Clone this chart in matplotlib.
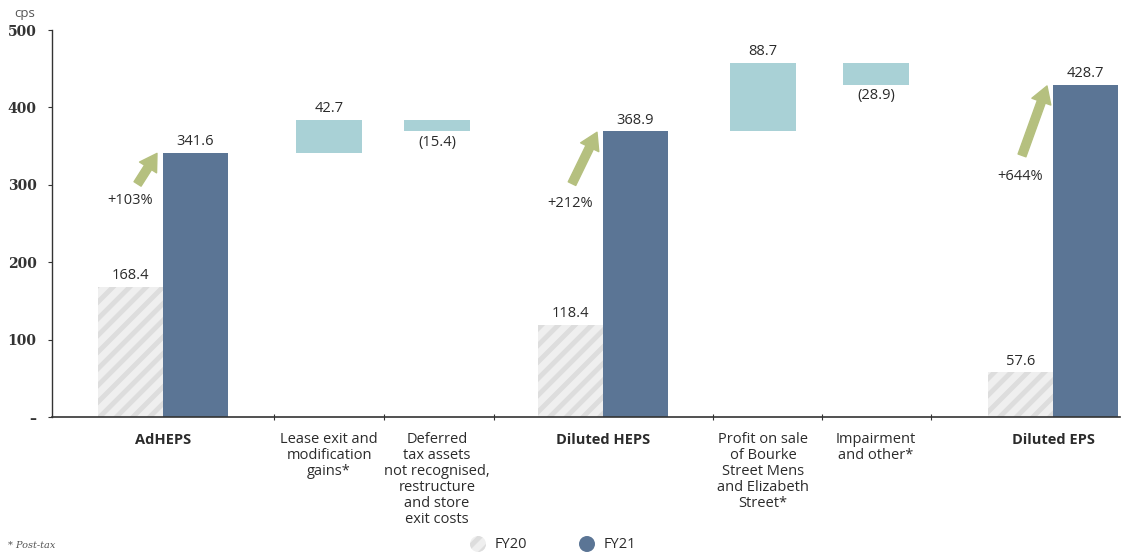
import matplotlib.pyplot as plt
import matplotlib.patches as mpatches
import numpy as np

# totals (cps) for the three earnings measures
totals = ['AdHEPS', 'Diluted HEPS', 'Diluted EPS']
fy20 = [168.4, 118.4, 57.6]
fy21 = [341.6, 368.9, 428.7]

# bridge items between the totals
adjustments = ['Lease exit and\nmodification\ngains*',
               'Deferred\ntax assets\nnot recognised,\nrestructure\nand store\nexit costs',
               'Profit on sale\nof Bourke\nStreet Mens\nand Elizabeth\nStreet*',
               'Impairment\nand other*']
adj_values = [42.7, -15.4, 88.7, -28.9]
# which total each bridge item starts from
adj_start = [0, 0, 1, 1]

yticks = [0, 100, 200, 300, 400, 500]
ytick_labels = ['\u2013', '100', '200', '300', '400', '500']

# layout (x in pixel-like units)
total_x = [163, 603, 1053]
adj_x = [329, 437, 763, 876]
sep_ticks = [274, 384, 494, 713, 822, 931]
bw = 65

c_fy21 = '#5b7595'
c_fy20 = '#efefef'
c_hatch = '#dddddd'
c_adj = '#a9d1d6'
c_arrow = '#b5c07f'
c_text = '#2b2b2b'
sans = ['Open Sans', 'DejaVu Sans']
fs = 10.5

plt.rcParams['hatch.linewidth'] = 3.5
fig = plt.figure(figsize=(11.38, 5.54), dpi=100)
W, H = 1138, 554
ax = fig.add_axes([52 / W, 137 / H, (1120 - 52) / W, (524 - 137) / H])
ax.set_xlim(52, 1120)
ax.set_ylim(0, 500)

arrow_tail = [(-14, -22), (-18, -37), (-18, -50)]
label_pos = [(-19, -34), (-19, -51), (-19, -65)]

# FY20 / FY21 totals
for i, name in enumerate(totals):
    cx = total_x[i]
    ax.bar(cx - bw / 2, fy20[i], bw, color=c_fy20, edgecolor=c_hatch,
           hatch='//', linewidth=0)
    ax.bar(cx + bw / 2, fy21[i], bw, color=c_fy21, linewidth=0)
    ax.text(cx - bw / 2, fy20[i] + 5, f'{fy20[i]:.1f}', ha='center', va='bottom',
            fontsize=fs, color=c_text, family=sans)
    ax.text(cx + bw / 2, fy21[i] + 5, f'{fy21[i]:.1f}', ha='center', va='bottom',
            fontsize=fs, color=c_text, family=sans)

    # growth arrow pointing at the FY21 bar
    growth = (fy21[i] / fy20[i] - 1) * 100
    tip = (cx - 6, fy21[i] - 1)
    ax.annotate('', xy=tip, xytext=arrow_tail[i], textcoords='offset points',
                arrowprops=dict(arrowstyle='simple,head_width=1.45,head_length=1.2,tail_width=0.6',
                                mutation_scale=10, color=c_arrow, shrinkA=0, shrinkB=0,
                                capstyle='round'))
    ax.annotate(f'+{growth:.0f}%', xy=tip, xytext=label_pos[i], textcoords='offset points',
                ha='center', va='center', fontsize=fs, color=c_text, family=sans)

    ax.text(cx, -21, name, ha='center', va='top', fontsize=fs, fontweight='bold',
            color=c_text, family=sans)

# bridge bars, stepping from each total
running = None
for j, name in enumerate(adjustments):
    if j == 0 or adj_start[j] != adj_start[j - 1]:
        running = fy21[adj_start[j]]
    v = adj_values[j]
    ax.bar(adj_x[j], abs(v), bw + 1, bottom=min(running, running + v),
           color=c_adj, linewidth=0)
    running = running + v
    if v >= 0:
        ax.text(adj_x[j], running + 5, f'{v:.1f}', ha='center', va='bottom',
                fontsize=fs, color=c_text, family=sans)
    else:
        ax.text(adj_x[j], running - 4, f'({abs(v):.1f})', ha='center', va='top',
                fontsize=fs, color=c_text, family=sans)
    ax.text(adj_x[j], -20, name, ha='center', va='top', fontsize=fs,
            color=c_text, family=sans, linespacing=1.08)

# axes styling
for s in ['top', 'right']:
    ax.spines[s].set_visible(False)
ax.spines['left'].set_color('#333333')
ax.spines['bottom'].set_color('#333333')
ax.spines['left'].set_linewidth(1)
ax.spines['bottom'].set_linewidth(1.2)
ax.set_yticks(yticks)
ax.set_yticklabels(ytick_labels, family='DejaVu Serif', fontweight='bold',
                   fontsize=10, color='#333333')
ax.tick_params(axis='y', length=3, pad=8, color='#333333')
ax.set_xticks(sep_ticks)
ax.set_xticklabels([])
ax.tick_params(axis='x', length=4, direction='inout', color='#333333')

fig.text(14 / W, 1 - 13 / H, 'cps', ha='left', va='center', fontsize=9.5,
         color='#555555', family=sans)
fig.text(8 / W, 1 - 546 / H, '* Post-tax', ha='left', va='center', fontsize=7,
         style='italic', color='#555555', family='DejaVu Serif')

# legend with round swatches
for lx, label, face, hatch in [(478, 'FY20', c_fy20, '//'), (587, 'FY21', c_fy21, None)]:
    circ = mpatches.Circle((lx / 100, (H - 544) / 100), 0.08,
                           transform=fig.dpi_scale_trans, facecolor=face,
                           edgecolor=c_hatch if hatch else face, hatch=hatch,
                           linewidth=0)
    fig.patches.append(circ)
    fig.text((lx + 17) / W, 1 - 544 / H, label, ha='left', va='center',
             fontsize=fs, color=c_text, family=sans)

fig.savefig('out.png', dpi=100)
